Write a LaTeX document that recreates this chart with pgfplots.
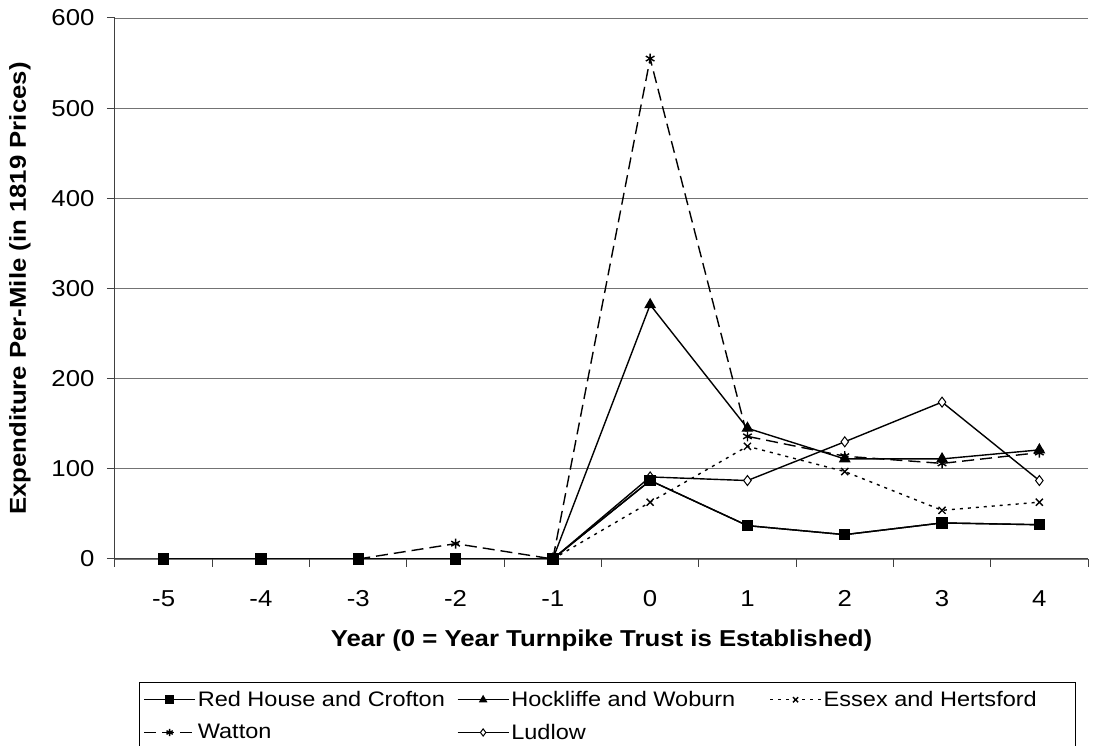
\documentclass[border=0pt]{standalone}
\usepackage{pgfplots}
\pgfplotsset{compat=1.18}
\usepackage{fontspec}
\setmainfont{Liberation Sans}[FakeStretch=1.12]
\begin{document}
\begin{tikzpicture}
\begin{axis}[
  scale only axis, width=973pt, height=541pt,
  xmin=-5.5, xmax=4.5, ymin=0, ymax=600,
  axis x line=bottom, axis y line=left,
  axis line style={-, line width=1pt, draw=black!75},
  xtick={-5,...,4},
  xticklabels={-5,-4,-3,-2,-1,0,1,2,3,4},
  minor xtick={-5.5,-4.5,...,4.5},
  major x tick style={draw=none},
  minor x tick style={line width=1pt, draw=black!75},
  ytick={0,100,...,600},
  yticklabels={0,100,200,300,400,500,600},
  major y tick style={line width=1pt, draw=black!75},
  tick align=outside, major tick length=8pt, minor tick length=8pt,
  ymajorgrids, grid style={black!55, line width=0.9pt},
  ticklabel style={font=\fontsize{23}{26}\selectfont},
  xticklabel style={yshift=-20pt},
  yticklabel style={xshift=-9pt},
  xlabel={Year (0 = Year Turnpike Trust is Established)},
  ylabel={Expenditure Per-Mile (in 1819 Prices)},
  xlabel style={font=\bfseries\fontsize{23}{26}\selectfont, at={(axis description cs:0.5,-0.15)}, anchor=center},
  ylabel style={font=\bfseries\fontsize{23}{26}\selectfont, at={(axis description cs:-0.0976,0.5)}, anchor=center},
  legend columns=3,
  legend cell align=left,
  legend style={at={(axis description cs:0.0247,-0.2274)}, anchor=north west,
    draw=black, line width=0.8pt, font=\fontsize{21}{24}\selectfont,
    inner xsep=4pt, inner ysep=8pt, row sep=14pt,
    nodes={inner xsep=2pt, inner ysep=1pt},
    /tikz/column 2/.style={column sep=10pt},
    /tikz/column 4/.style={column sep=32pt}},
  legend image code/.code={\draw[mark repeat=2,mark phase=2,#1,mark size=3.6pt] plot coordinates {(0pt,0pt) (25.5pt,0pt) (51pt,0pt)};},
]
\coordinate (SW) at (rel axis cs:0,0);
\coordinate (NE) at (rel axis cs:1,1);
\addplot[black, line width=1.4pt, mark=square*, mark size=5pt, mark options={solid}]
  coordinates {(-5,0) (-4,0) (-3,0) (-2,0) (-1,0) (0,87) (1,37) (2,27) (3,40) (4,38)};
\addlegendentry{Red House and Crofton}
\addplot[black, line width=1.4pt, mark=triangle*, mark size=5.5pt, mark options={solid}]
  coordinates {(-1,0) (0,282) (1,145) (2,111) (3,111) (4,121)};
\addlegendentry{Hockliffe and Woburn}
\addplot[black, line width=1.4pt, dash pattern=on 3pt off 5pt, mark=x, mark size=5pt, mark options={solid}]
  coordinates {(-1,0) (0,63) (1,125) (2,97) (3,54) (4,63)};
\addlegendentry{Essex and Hertsford\hspace*{33pt}}
\addplot[black, line width=1.4pt, dash pattern=on 12pt off 6pt, mark=asterisk, mark size=5pt, mark options={solid}]
  coordinates {(-3,0) (-2,17) (-1,0) (0,555) (1,136) (2,114) (3,106) (4,118)};
\addlegendentry{Watton}
\addplot[black, line width=1.4pt, mark=diamond*, mark size=5pt, mark options={solid, fill=white, line width=1pt}]
  coordinates {(-1,0) (0,91) (1,87) (2,130) (3,174) (4,87)};
\addlegendentry{Ludlow}
\addplot[black, line width=1.4pt, mark=square*, mark size=5pt, mark options={solid}, forget plot]
  coordinates {(-5,0) (-4,0) (-3,0) (-2,0) (-1,0) (0,87) (1,37) (2,27) (3,40) (4,38)};
\end{axis}
\pgfresetboundingbox
\path ([shift={(-115pt,-187pt)}]SW) rectangle ([shift={(15pt,18pt)}]NE);
\end{tikzpicture}
\end{document}
